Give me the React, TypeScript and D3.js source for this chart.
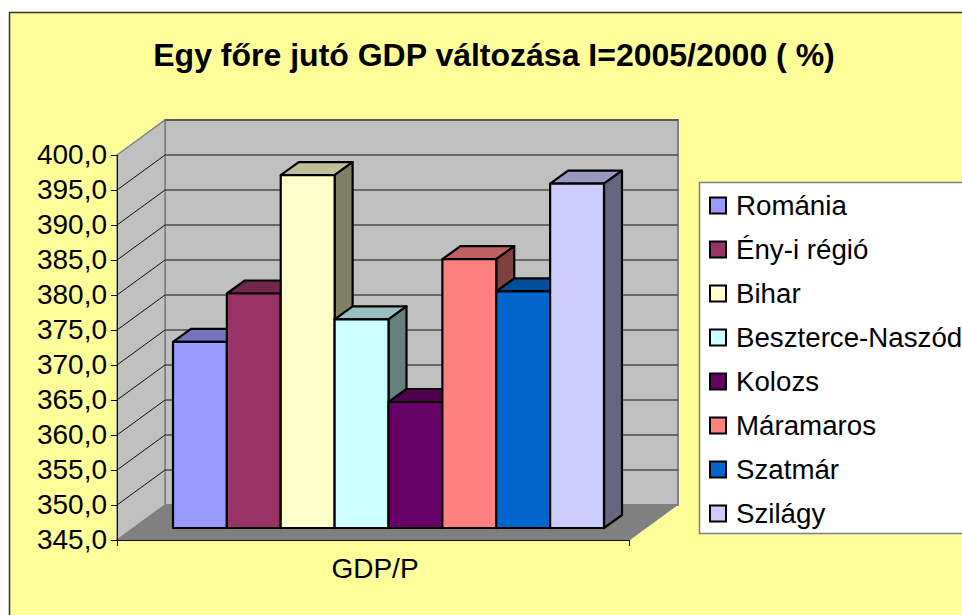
import React, { useEffect, useRef } from 'react'
import * as d3 from 'd3'

const title = 'Egy főre jutó GDP változása I=2005/2000 ( %)'
const categoryLabel = 'GDP/P'
const regions = ['Románia', 'Ény-i régió', 'Bihar', 'Beszterce-Naszód', 'Kolozs', 'Máramaros', 'Szatmár', 'Szilágy']
const gdpValues = [371.6, 378.5, 395.4, 374.8, 363.0, 383.4, 378.8, 394.2]
const barColors = ['#9999ff', '#993366', '#ffffcc', '#ccffff', '#660066', '#ff8080', '#0066cc', '#ccccff']
const tickValues = [345, 350, 355, 360, 365, 370, 375, 380, 385, 390, 395, 400]

// oblique offsets of the 3D box
const wallDx = 48
const wallDy = -35
const barDepthX = 18
const barDepthY = -13
const barShift = -12 // bars stand a bit behind the front edge of the floor

const shade = (c: string, k: number) => {
  const r = d3.rgb(c)
  return d3.rgb(r.r * k, r.g * k, r.b * k).formatHex()
}

export default function App() {
  const ref = useRef<SVGSVGElement>(null)

  useEffect(() => {
    const svg = d3.select(ref.current)
    svg.selectAll('*').remove()

    const y = d3.scaleLinear().domain([345, 400]).range([540, 155])
    const x = d3.scaleBand().domain(regions).range([173, 604]).padding(0)
    const left = 117
    const right = 630
    const font = '"Liberation Sans", Arial, sans-serif'

    svg.append('rect').attr('x', 9.5).attr('y', 12.5).attr('width', 980).attr('height', 640)
      .attr('fill', '#ffff99').attr('stroke', '#333').attr('stroke-width', 1.5)

    svg.append('text').attr('x', 494).attr('y', 66).attr('text-anchor', 'middle')
      .attr('font-family', font).attr('font-weight', 'bold').attr('font-size', 32).text(title)

    // walls and floor
    const pts = (p: number[][]) => p.map(d => d.join(',')).join(' ')
    svg.append('polygon')
      .attr('points', pts([[left + wallDx, y(400) + wallDy], [right + wallDx, y(400) + wallDy], [right + wallDx, y(345) + wallDy], [left + wallDx, y(345) + wallDy]]))
      .attr('fill', '#c0c0c0').attr('stroke', '#808080').attr('stroke-width', 2)
    svg.append('polygon')
      .attr('points', pts([[left, y(400)], [left + wallDx, y(400) + wallDy], [left + wallDx, y(345) + wallDy], [left, y(345)]]))
      .attr('fill', '#c0c0c0').attr('stroke', '#808080').attr('stroke-width', 1.5)

    const grid = tickValues.slice(1)
    svg.append('g').selectAll('line').data(grid).enter().append('line')
      .attr('x1', left + wallDx).attr('x2', right + wallDx)
      .attr('y1', d => y(d) + wallDy).attr('y2', d => y(d) + wallDy)
      .attr('stroke', '#4d4d4d').attr('stroke-width', 1.6)
    svg.append('g').selectAll('line').data(grid.slice(0, -1)).enter().append('line')
      .attr('x1', left).attr('x2', left + wallDx)
      .attr('y1', d => y(d)).attr('y2', d => y(d) + wallDy)
      .attr('stroke', '#111').attr('stroke-width', 1)

    svg.append('polygon')
      .attr('points', pts([[left, y(345)], [left + wallDx, y(345) + wallDy], [right + wallDx, y(345) + wallDy], [right, y(345)]]))
      .attr('fill', '#808080')

    // bars, left to right so the next bar covers the side of the previous one
    const bars = svg.append('g').selectAll('g').data(regions).enter().append('g')
      .attr('stroke', '#000').attr('stroke-width', 2.2).attr('stroke-linejoin', 'round')
    const xl = (d: string) => x(d) as number
    const xr = (d: string) => xl(d) + x.bandwidth()
    const top = (i: number) => y(gdpValues[i]) + barShift
    const base = y(345) + barShift

    bars.append('polygon')
      .attr('points', (d, i) => pts([[xl(d), top(i)], [xl(d) + barDepthX, top(i) + barDepthY], [xr(d) + barDepthX, top(i) + barDepthY], [xr(d), top(i)]]))
      .attr('fill', (d, i) => shade(barColors[i], 0.75))
    bars.append('polygon')
      .attr('points', (d, i) => pts([[xr(d), top(i)], [xr(d) + barDepthX, top(i) + barDepthY], [xr(d) + barDepthX, base + barDepthY], [xr(d), base]]))
      .attr('fill', (d, i) => shade(barColors[i], 0.5))
    bars.append('rect')
      .attr('x', d => xl(d)).attr('y', (d, i) => top(i))
      .attr('width', x.bandwidth()).attr('height', (d, i) => base - top(i))
      .attr('fill', (d, i) => barColors[i])

    // value axis
    const axis = d3.axisLeft(y).tickValues(tickValues).tickSize(6).tickPadding(4)
      .tickFormat(d => (d as number).toFixed(1).replace('.', ','))
    const axisG = svg.append('g').attr('transform', `translate(${left},0)`).call(axis)
    axisG.selectAll('text').attr('font-family', font).attr('font-size', 28).attr('fill', '#000')
    axisG.selectAll('line').attr('stroke', '#111')
    axisG.select('.domain').attr('stroke', '#111').attr('d', `M0.5,${y(400)}V${y(345) + 6}`)

    // category axis
    svg.append('line').attr('x1', left - 6).attr('x2', right).attr('y1', 540.5).attr('y2', 540.5).attr('stroke', '#111')
    svg.append('line').attr('x1', right - 0.5).attr('x2', right - 0.5).attr('y1', 540).attr('y2', 546).attr('stroke', '#111')
    svg.append('text').attr('x', 375).attr('y', 578).attr('text-anchor', 'middle')
      .attr('font-family', font).attr('font-size', 28).text(categoryLabel)

    // legend
    svg.append('rect').attr('x', 699.5).attr('y', 182.5).attr('width', 300).attr('height', 351)
      .attr('fill', '#fff').attr('stroke', '#808080').attr('stroke-width', 1.5)
    const rowY = d3.scalePoint().domain(regions).range([205.5, 513.5])
    const rows = svg.append('g').selectAll('g').data(regions).enter().append('g')
      .attr('transform', d => `translate(0,${rowY(d)})`)
    rows.append('rect').attr('x', 710).attr('y', -8).attr('width', 16).attr('height', 16)
      .attr('fill', (d, i) => barColors[i]).attr('stroke', '#000').attr('stroke-width', 2)
    rows.append('text').attr('x', 736).attr('y', 9.5).attr('font-family', font).attr('font-size', 27.7).text(d => d)
  }, [])

  return <svg ref={ref} width={962} height={615} style={{ position: 'absolute', left: 0, top: 0 }} />
}
